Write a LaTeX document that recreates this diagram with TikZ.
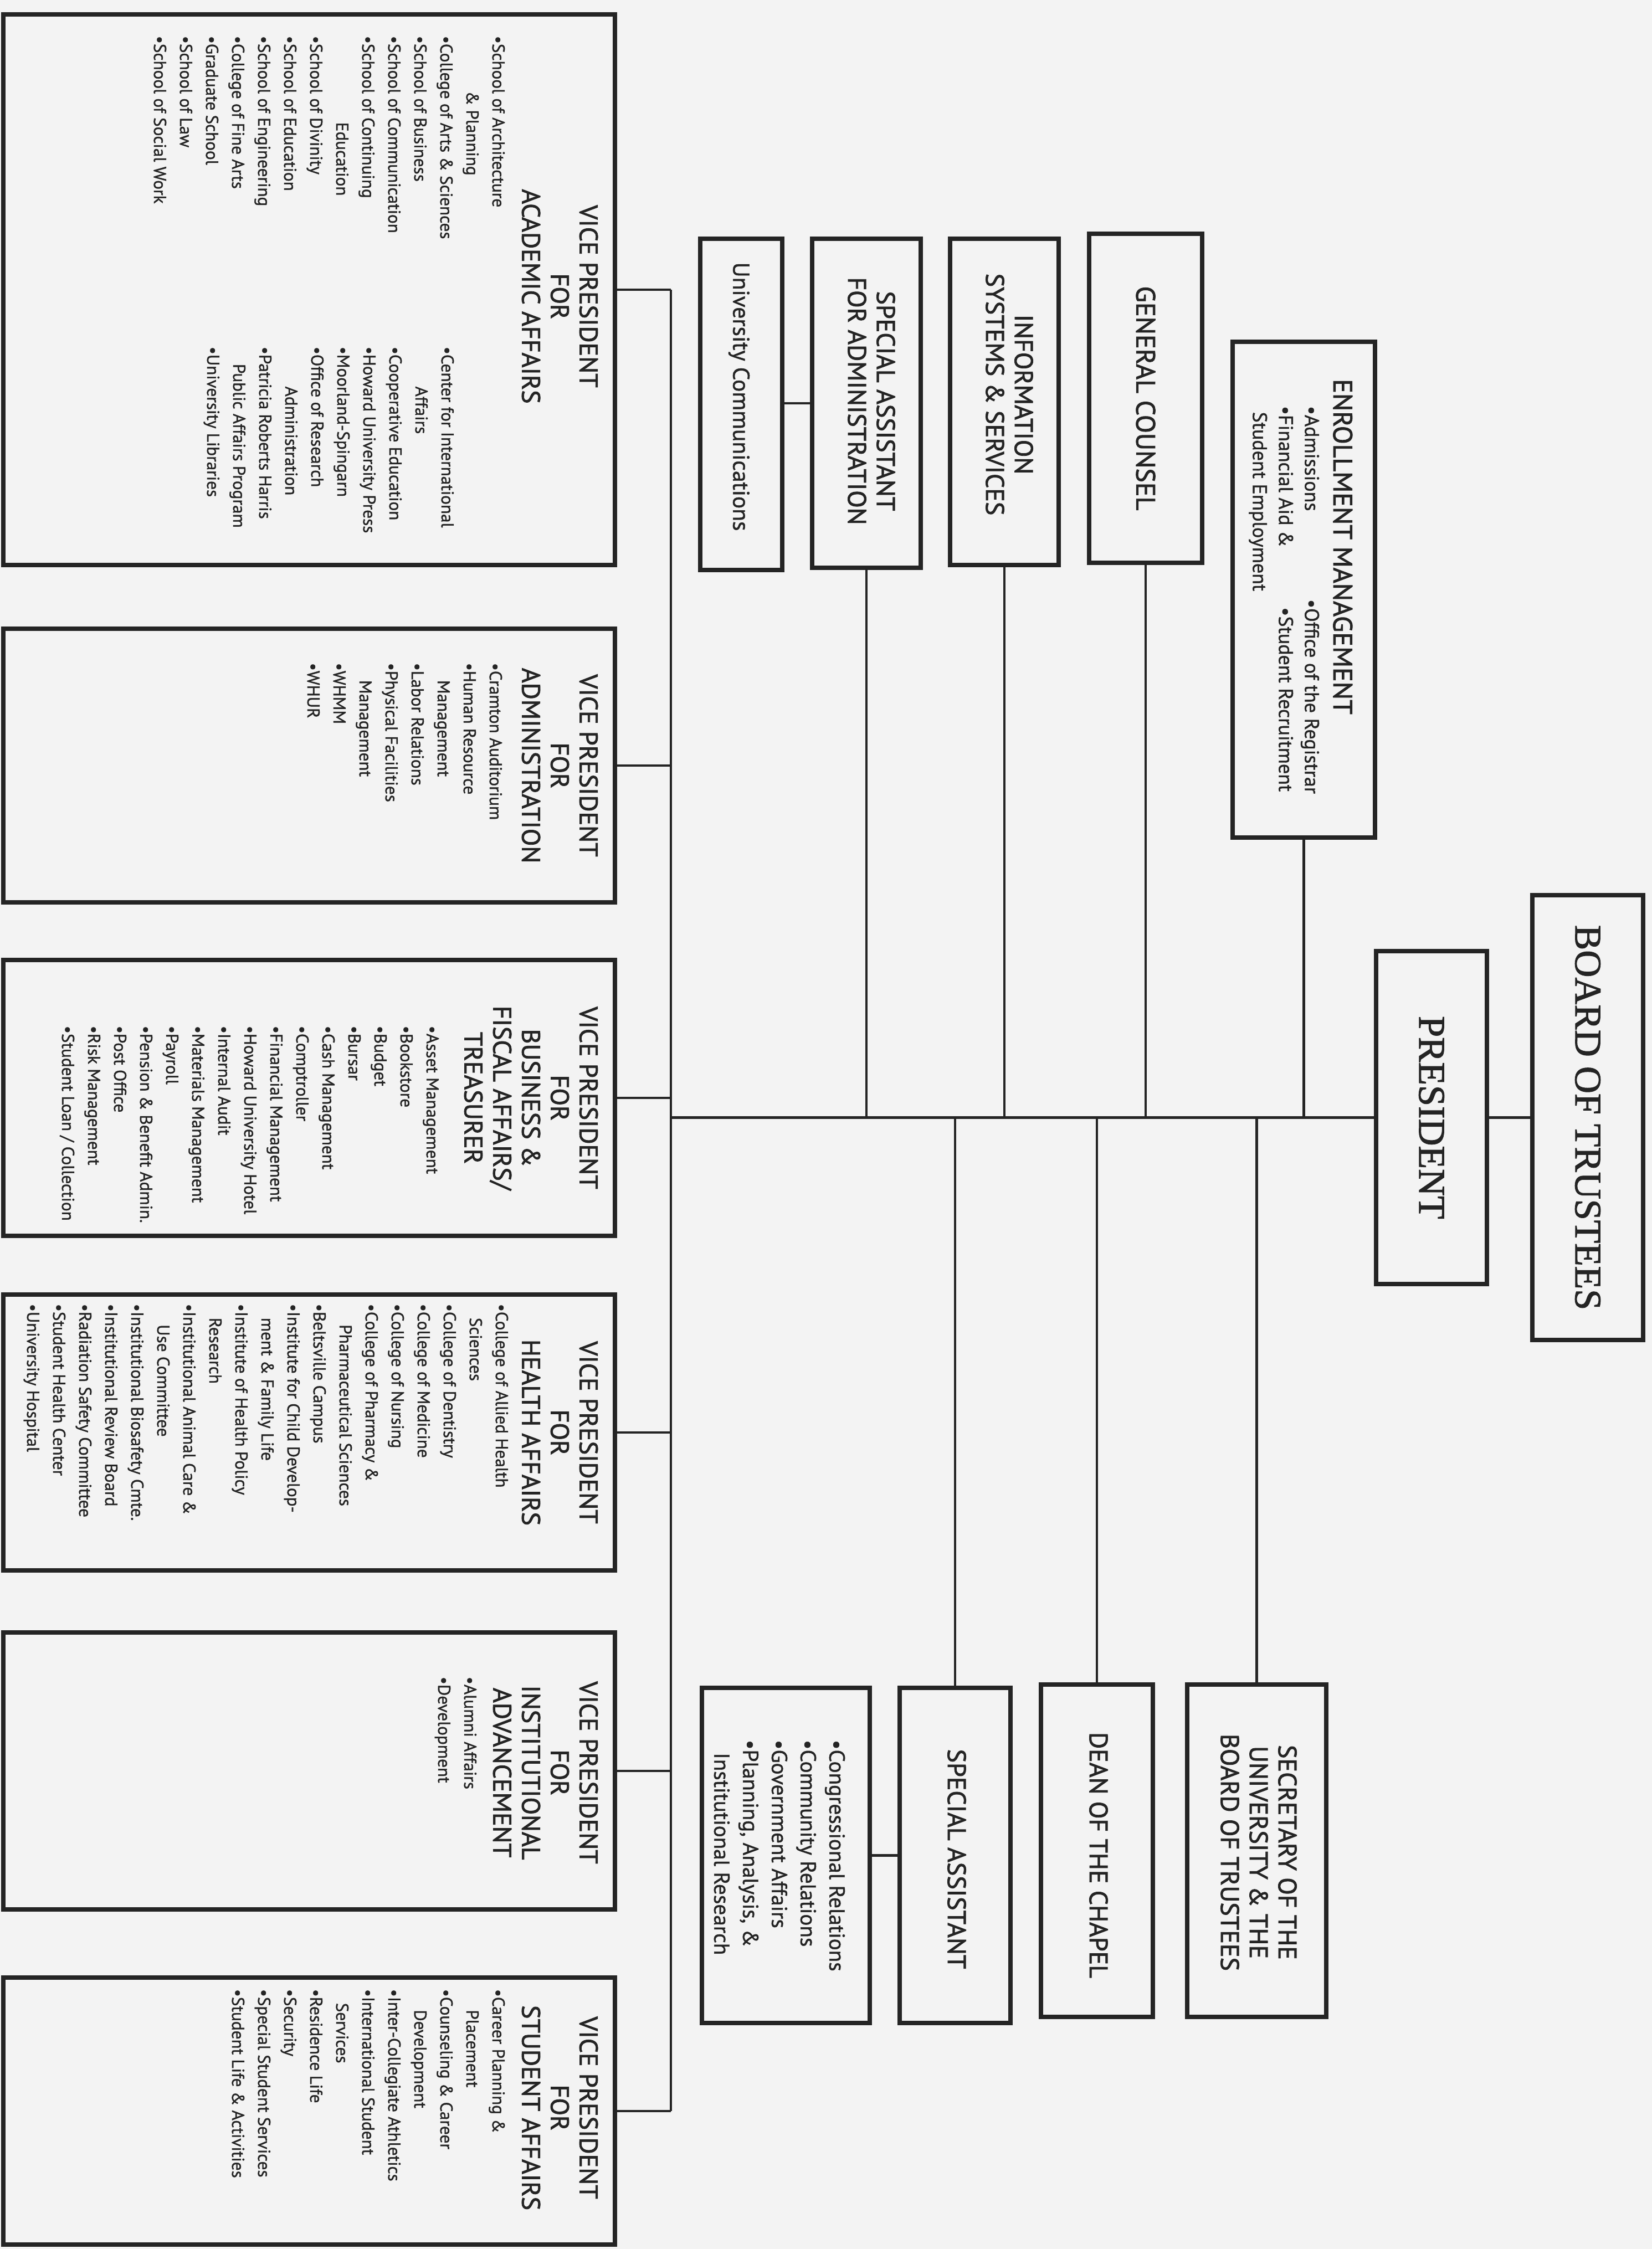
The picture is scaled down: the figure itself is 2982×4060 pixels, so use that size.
\documentclass[tikz,border=0pt]{standalone}
\usepackage{fontspec}
\setmainfont{PT Sans}[FakeBold=1.2]
\newfontfamily\tfont{PT Sans}[FakeBold=1.8]
\newfontfamily\timesfont{Liberation Serif}[FakeBold=1.5]
\usetikzlibrary{fit}
\definecolor{ink}{HTML}{242424}
\definecolor{paper}{HTML}{F3F3F3}
\tikzset{
  box/.style={draw=ink, line width=1.8pt, inner sep=0pt},
  vpbox/.style={draw=ink, line width=2pt, inner sep=0pt},
  conn/.style={draw=ink, line width=1.2pt},
  ttl/.style={rotate=-90, inner sep=0pt, text=ink, align=center, font=\fontsize{11.5}{13}\tfont},
  vptitle/.style={ttl, anchor=north},
  blist/.style={rotate=-90, inner sep=0pt, text=ink, align=left, anchor=north west, font=\fontsize{7.8}{11.75}\selectfont},
  big/.style={rotate=-90, inner sep=0pt, text=ink, font=\fontsize{17}{20}\timesfont},
}
\begin{document}
\begin{tikzpicture}[x=0.25pt,y=-0.25pt]
\fill[paper] (0,0) rectangle (2982,4060);
\useasboundingbox (0,0) rectangle (2982,4060);

% ---- boxes
\node[box, fit={(2766,1616) (2966,2419)}] (board) {};
\node[box, fit={(2484,1717) (2684,2318)}] (pres) {};
\node[box, fit={(2225,617) (2482,1512)}] (enr) {};
\node[box, fit={(1966,422) (2170,1016)}] (gc) {};
\node[box, fit={(1715,431) (1911,1020)}] (iss) {};
\node[box, fit={(1466,431) (1662,1025)}] (saa) {};
\node[box, fit={(1264,431) (1412,1029)}] (uc) {};
\node[box, fit={(2143,3041) (2394,3641)}] (sec) {};
\node[box, fit={(1879,3041) (2081,3641)}] (dean) {};
\node[box, fit={(1624,3047) (1824,3652)}] (sa) {};
\node[box, fit={(1267,3047) (1570,3652)}] (sub) {};
\node[vpbox, fit={(6,26) (1110,1020)}] (vpaa) {};
\node[vpbox, fit={(6,1135) (1110,1629)}] (vpad) {};
\node[vpbox, fit={(6,1733) (1110,2231)}] (vpbf) {};
\node[vpbox, fit={(6,2337) (1110,2835)}] (vpha) {};
\node[vpbox, fit={(6,2947) (1110,3447)}] (vpia) {};
\node[vpbox, fit={(6,3570) (1110,4052)}] (vpsa) {};

% ---- connectors
\coordinate (colx) at (1211,0);
\draw[conn] (board.west) -- (board.west -| pres.east);
\draw[conn] (pres.west) -- (pres.west -| colx);
\draw[conn] (vpaa.east -| colx) -- (vpsa.east -| colx);
\foreach \n in {vpaa,vpad,vpbf,vpha,vpia,vpsa}
  \draw[conn] (\n.east) -- (\n.east -| colx);
\foreach \n in {enr,gc,iss,saa}
  \draw[conn] (\n.south) -- (\n.south |- pres.west);
\foreach \n in {sec,dean,sa}
  \draw[conn] (\n.north) -- (\n.north |- pres.west);
\draw[conn] (saa.west) -- (saa.west -| uc.east);
\draw[conn] (sa.west) -- (sa.west -| sub.east);

% ---- top of chart
\node[big] (boardt) at (board.center) {BOARD OF TRUSTEES};
\node[big] (prest) at (pres.center) {PRESIDENT};

% ---- enrollment
\node[ttl, anchor=north, font=\fontsize{12}{14}\tfont] (enrt) at (2442,987) {ENROLLMENT MANAGEMENT};
\node[blist, font=\fontsize{9}{11.75}\selectfont] (enra) at (2382,732) {•Admissions\\•Financial Aid \&\\\hspace*{0.3em}Student Employment};
\node[blist, font=\fontsize{9}{11.75}\selectfont] (enrb) at (2382,1081) {•Office of the Registrar\\\hspace*{0.4em}•Student Recruitment};

% ---- staff boxes
\node[ttl, font=\fontsize{12}{14}\tfont] (gct) at (gc.center) {GENERAL COUNSEL};
\node[ttl] (isst) at (1822,712) {INFORMATION\\SYSTEMS \& SERVICES};
\node[ttl] (saat) at (1573,724) {SPECIAL ASSISTANT\\FOR ADMINISTRATION};
\node[ttl, font=\fontsize{10.4}{12}\selectfont] (uct) at (1334,716) {University Communications};
\node[ttl] (sect) at (2272,3344) {SECRETARY OF THE\\UNIVERSITY \& THE\\BOARD OF TRUSTEES};
\node[ttl] (deant) at (1983,3349) {DEAN OF THE CHAPEL};
\node[ttl] (sat) at (1727,3356) {SPECIAL ASSISTANT};
\node[blist, font=\fontsize{9.8}{13}\selectfont] (subt) at (1526,3140) {•Congressional Relations\\•Community Relations\\•Government Affairs\\•Planning, Analysis, \&\\\hspace*{0.6em}Institutional Research};

% ---- vice presidents
\node[vptitle] (vpaat) at (1080,535) {VICE PRESIDENT\\FOR\\ACADEMIC AFFAIRS};
\node[blist] (vpaal) at (912,64) {•School of Architecture\\
\hspace*{3.2em}\& Planning\\
•College of Arts \& Sciences\\
•School of Business\\
•School of Communication\\
•School of Continuing\\
\hspace*{5em}Education\\
•School of Divinity\\
•School of Education\\
•School of Engineering\\
•College of Fine Arts\\
•Graduate School\\
•School of Law\\
•School of Social Work};
\node[blist] (vpaar) at (820,625) {•Center for International\\
\hspace*{2.3em}Affairs\\
•Cooperative Education\\
•Howard University Press\\
•Moorland-Spingarn\\
•Office of Research\\
\hspace*{2.3em}Administration\\
•Patricia Roberts Harris\\
\hspace*{1em}Public Affairs Program\\
•University Libraries};

\node[vptitle] (vpadt) at (1080,1382) {VICE PRESIDENT\\FOR\\ADMINISTRATION};
\node[blist] (vpadl) at (907,1196) {•Cramton Auditorium\\
•Human Resource\\
\hspace*{1em}Management\\
•Labor Relations\\
•Physical Facilities\\
\hspace*{1em}Management\\
•WHMM\\
•WHUR};

\node[vptitle] (vpbft) at (1080,1982) {VICE PRESIDENT\\FOR\\BUSINESS \&\\FISCAL AFFAIRS/\\TREASURER};
\node[blist] (vpbfl) at (793,1851) {•Asset Management\\
•Bookstore\\
•Budget\\
•Bursar\\
•Cash Management\\
•Comptroller\\
•Financial Management\\
•Howard University Hotel\\
•Internal Audit\\
•Materials Management\\
•Payroll\\
•Pension \& Benefit Admin.\\
•Post Office\\
•Risk Management\\
•Student Loan / Collection};

\node[vptitle] (vphat) at (1080,2586) {VICE PRESIDENT\\FOR\\HEALTH AFFAIRS};
\node[blist] (vphal) at (918,2353) {•College of Allied Health\\
\hspace*{0.8em}Sciences\\
•College of Dentistry\\
•College of Medicine\\
•College of Nursing\\
•College of Pharmacy \&\\
\hspace*{1.2em}Pharmaceutical Sciences\\
•Beltsville Campus\\
•Institute for Child Develop-\\
\hspace*{0.8em}ment \& Family Life\\
•Institute of Health Policy\\
\hspace*{0.8em}Research\\
•Institutional Animal Care \&\\
\hspace*{1.2em}Use Committee\\
•Institutional Biosafety Cmte.\\
•Institutional Review Board\\
•Radiation Safety Committee\\
•Student Health Center\\
•University Hospital};

\node[vptitle] (vpiat) at (1080,3200) {VICE PRESIDENT\\FOR\\INSTITUTIONAL\\ADVANCEMENT};
\node[blist] (vpial) at (861,3026) {•Alumni Affairs\\•Development};

\node[vptitle] (vpsat) at (1080,3805) {VICE PRESIDENT\\FOR\\STUDENT AFFAIRS};
\node[blist] (vpsal) at (912,3590) {•Career Planning \&\\
\hspace*{1.2em}Placement\\
•Counseling \& Career\\
\hspace*{1.2em}Development\\
•Inter-Collegiate Athletics\\
•International Student\\
\hspace*{0.8em}Services\\
•Residence Life\\
•Security\\
•Special Student Services\\
•Student Life \& Activities};
\end{tikzpicture}
\end{document}
